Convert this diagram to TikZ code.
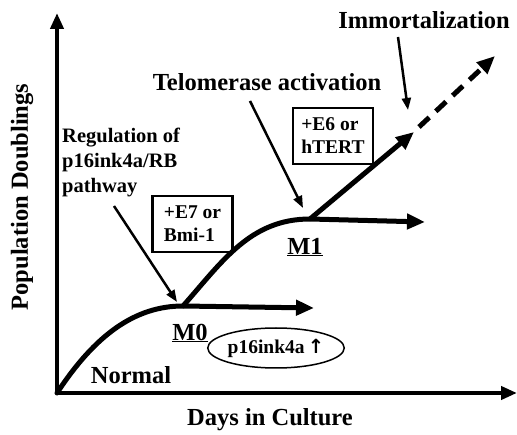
\documentclass[tikz,border=0pt]{standalone}
\usepackage{fontspec}
\setmainfont{Liberation Serif}
\newfontfamily\arrowfont{DejaVu Sans}
\usetikzlibrary{arrows.meta,shapes.geometric}
\begin{document}
\begin{tikzpicture}[x=1pt,y=-1pt,
  biglbl/.style={font=\bfseries\fontsize{24.5}{26}\selectfont, inner sep=0pt},
  midlbl/.style={font=\bfseries\fontsize{20.5}{25}\selectfont, inner sep=0pt},
  boxlbl/.style={draw, line width=2.2pt, font=\bfseries\fontsize{19.5}{23}\selectfont, align=left, minimum width=80pt, minimum height=56pt, inner sep=2pt},
  axisline/.style={line width=4pt, -{Triangle[length=16pt,width=13pt]}},
  curveline/.style={line width=5pt},
  curvearrow/.style={line width=5pt, -{Triangle[length=18pt,width=15pt]}},
  pointer/.style={line width=2.5pt, -{Triangle[length=12pt,width=9pt]}},
]
\useasboundingbox (0,0) rectangle (517,435);
\fill[white] (0,0) rectangle (517,435);

% axes
\coordinate (O) at (57,393);
\coordinate (Ytop) at (57,13);
\coordinate (Xend) at (517,393);
\draw[axisline] (O) -- (Ytop);
\draw[axisline] (O) -- (Xend);

% growth curve
\coordinate (M0p) at (183,306);
\coordinate (M0end) at (314,308);
\coordinate (M1p) at (310,219);
\coordinate (M1end) at (425,222);
\coordinate (Tend) at (414,132);
\coordinate (Dstart) at (419,127);
\coordinate (Dend) at (495,56);
\draw[curveline, line cap=round] (O) .. controls (95,335) and (135,306) .. (M0p);
\draw[curvearrow] (M0p) -- (M0end);
\draw[curveline] (M0p) .. controls (222,262) and (250,219) .. (M1p);
\draw[curvearrow] (M1p) -- (M1end);
\draw[curvearrow] (M1p) -- (Tend);
\draw[curvearrow, dash pattern=on 14pt off 9pt] (Dstart) -- (Dend);

% labels
\node[biglbl] (imm) at (424,20) {Immortalization};
\node[biglbl] (tel) at (267,82) {Telomerase activation};
\node[midlbl, align=left, anchor=west] (reg) at (62,162) {Regulation of\\p16ink4a/RB\\pathway};
\node[boxlbl] (e7) at (192.5,224) {+E7 or\\Bmi-1};
\node[boxlbl] (e6) at (333,136) {+E6 or\\hTERT};
\node[biglbl] (m0) at (190,333) {\underline{M0}};
\node[biglbl] (m1) at (305,247) {\underline{M1}};
\node[biglbl] (normal) at (131,375) {Normal};
\node[ellipse, draw, line width=1.5pt, minimum width=102pt, minimum height=40pt, inner sep=0pt,
      font=\bfseries\fontsize{19.5}{21}\selectfont] (p16) at (276,348) {p16ink4a\,{\arrowfont\bfseries ↑}};
\node[biglbl, rotate=90] (ylab) at (22,197) {Population Doublings};
\node[biglbl] (xlab) at (270,420) {Days in Culture};

% pointer arrows
\coordinate (immA) at (398,37);
\coordinate (immB) at (408,110);
\coordinate (telA) at (250,101);
\coordinate (telB) at (303,208);
\coordinate (regA) at (114,206);
\coordinate (regB) at (177,302);
\draw[pointer] (immA) -- (immB);
\draw[pointer] (telA) -- (telB);
\draw[pointer] (regA) -- (regB);
\end{tikzpicture}
\end{document}
